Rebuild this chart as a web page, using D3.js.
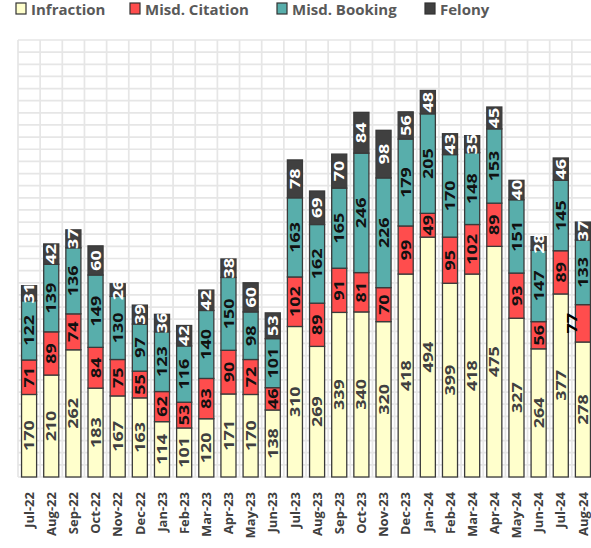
<!DOCTYPE html>
<html>
<head>
<meta charset="utf-8">
<script src="https://cdn.jsdelivr.net/npm/d3@7"></script>
<style>
  html, body { margin: 0; padding: 0; background: #fff; }
  svg { display: block; font-family: "Open Sans", sans-serif; }
</style>
</head>
<body>
<div id="chart"></div>
<script>
// Monthly counts by type
const months = ['Jul-22', 'Aug-22', 'Sep-22', 'Oct-22', 'Nov-22', 'Dec-22', 'Jan-23', 'Feb-23',
  'Mar-23', 'Apr-23', 'May-23', 'Jun-23', 'Jul-23', 'Aug-23', 'Sep-23', 'Oct-23', 'Nov-23',
  'Dec-23', 'Jan-24', 'Feb-24', 'Mar-24', 'Apr-24', 'May-24', 'Jun-24', 'Jul-24', 'Aug-24'];
const infraction = [170, 210, 262, 183, 167, 163, 114, 101, 120, 171, 170, 138, 310, 269, 339, 340, 320, 418, 494, 399, 418, 475, 327, 264, 377, 278];
const misdCitation = [71, 89, 74, 84, 75, 55, 62, 53, 83, 90, 72, 46, 102, 89, 91, 81, 70, 99, 49, 95, 102, 89, 93, 56, 89, 77];
const misdBooking = [122, 139, 136, 149, 130, 97, 123, 116, 140, 150, 98, 101, 163, 162, 165, 246, 226, 179, 205, 170, 148, 153, 151, 147, 145, 133];
const felony = [31, 42, 37, 60, 26, 39, 36, 42, 42, 38, 60, 53, 78, 69, 70, 84, 98, 56, 48, 43, 35, 45, 40, 28, 46, 37];
const seriesNames = ['Infraction', 'Misd. Citation', 'Misd. Booking', 'Felony'];

const fills = ['#ffffcc', '#ff4d4d', '#58aeab', '#404040'];
const labelColors = ['#404040', '#111', '#111', '#fff'];

const width = 591, height = 548;
const plot = { left: 18, right: 594, top: 40, bottom: 477 };

const table = months.map((m, i) => ({
  month: m,
  'Infraction': infraction[i],
  'Misd. Citation': misdCitation[i],
  'Misd. Booking': misdBooking[i],
  'Felony': felony[i],
}));
const stacked = d3.stack().keys(seriesNames)(table);

const x = d3.scaleBand().domain(months).range([plot.left, plot.right]).paddingInner(0.32).paddingOuter(0.16);
const y = d3.scaleLinear().domain([0, 900]).range([plot.bottom, plot.top]);

const svg = d3.select('#chart').append('svg')
  .attr('width', width)
  .attr('height', height);

// Gridlines
const grid = svg.append('g').attr('stroke', '#e6e6e6').attr('stroke-width', 1.7);
grid.selectAll('line.h')
  .data(d3.range(0, 901, 25))
  .enter().append('line')
  .attr('x1', plot.left).attr('x2', plot.right)
  .attr('y1', d => y(d)).attr('y2', d => y(d));
const step = x.step();
grid.selectAll('line.v')
  .data(d3.range(0, months.length + 1))
  .enter().append('line')
  .attr('x1', i => plot.left + i * step).attr('x2', i => plot.left + i * step)
  .attr('y1', plot.top).attr('y2', plot.bottom);

// Bars
const layers = svg.selectAll('g.layer')
  .data(stacked)
  .enter().append('g')
  .attr('class', 'layer')
  .attr('fill', (d, i) => fills[i]);

layers.selectAll('rect')
  .data(d => d)
  .enter().append('rect')
  .attr('x', d => x(d.data.month))
  .attr('y', d => y(d[1]))
  .attr('width', x.bandwidth())
  .attr('height', d => y(d[0]) - y(d[1]))
  .attr('stroke', '#3a3a3a')
  .attr('stroke-width', 1.3);

// Value labels (rotated)
stacked.forEach((layer, si) => {
  svg.append('g').selectAll('text')
    .data(layer)
    .enter().append('text')
    .attr('transform', d => {
      let cx = x(d.data.month) + x.bandwidth() / 2;
      let cy = (y(d[0]) + y(d[1])) / 2;
      // Aug-24 citation label sits outside the bar
      if (si === 1 && d.data.month === 'Aug-24') cx -= 11;
      return `translate(${cx},${cy}) rotate(-90) scale(1.28,1)`;
    })
    .attr('text-anchor', 'middle')
    .attr('dy', '0.36em')
    .attr('font-size', 14)
    .attr('font-weight', 700)
    .attr('fill', d => (si === 1 && d.data.month === 'Aug-24') ? '#000' : labelColors[si])
    .text(d => d[1] - d[0]);
});

// X axis labels
const xAxis = svg.append('g')
  .attr('transform', `translate(0,${plot.bottom})`)
  .call(d3.axisBottom(x).tickSize(0).tickPadding(0));
xAxis.select('.domain').remove();
xAxis.selectAll('text')
  .attr('transform', 'translate(0,15) rotate(-90)')
  .attr('text-anchor', 'end')
  .attr('x', 0).attr('y', 0).attr('dy', '0.36em')
  .attr('font-size', 13)
  .attr('font-weight', 700)
  .attr('font-family', '"Open Sans", sans-serif')
  .attr('fill', '#404040');

// Legend
const legendX = [16, 130, 277, 425];
const legend = svg.append('g');
seriesNames.forEach((name, i) => {
  const g = legend.append('g').attr('transform', `translate(${legendX[i]},0)`);
  g.append('rect')
    .attr('x', 0).attr('y', 3).attr('width', 10).attr('height', 11)
    .attr('fill', fills[i]).attr('stroke', '#333').attr('stroke-width', 1.2);
  g.append('text')
    .attr('x', 15).attr('y', 15)
    .attr('font-size', 15).attr('font-weight', 700)
    .attr('fill', '#595959')
    .text(name);
});
</script>
</body>
</html>
